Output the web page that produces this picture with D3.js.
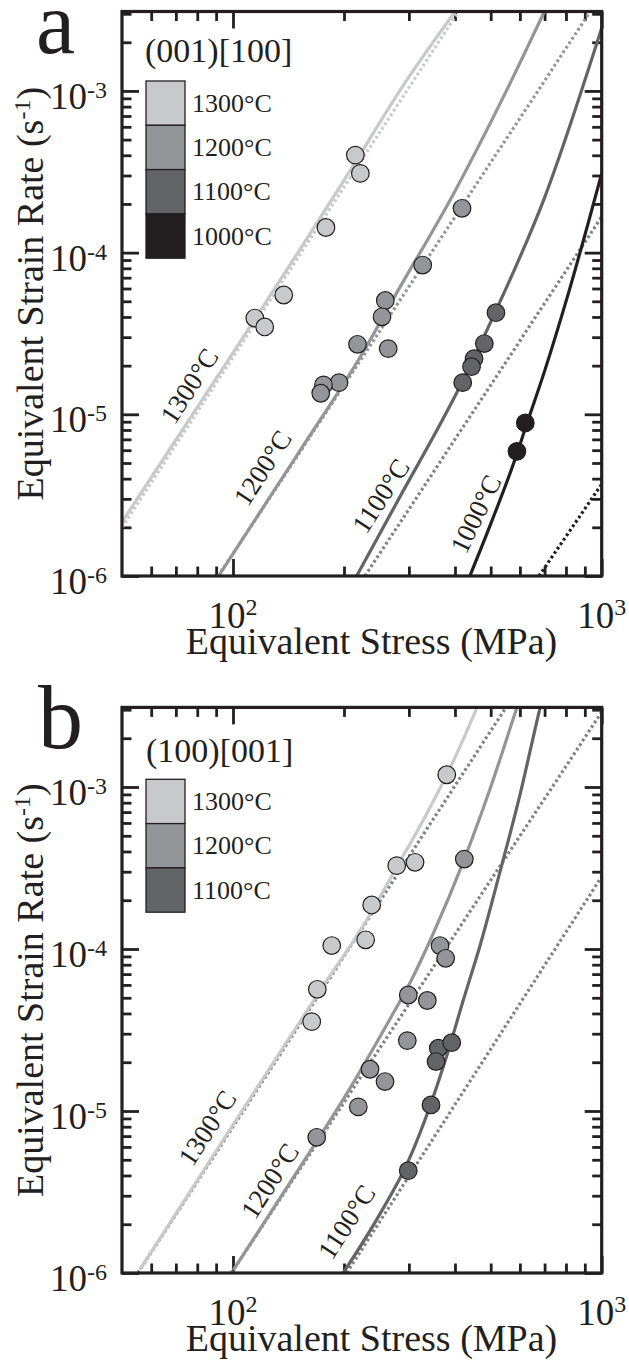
<!DOCTYPE html>
<html>
<head>
<meta charset="utf-8">
<script src="https://cdn.jsdelivr.net/npm/d3@7"></script>
<style>
  html, body { margin: 0; padding: 0; background: #fff; }
  svg text { font-family: "Liberation Serif", "Times New Roman", "DejaVu Serif", serif; fill: #231f20; }
</style>
</head>
<body>
<svg id="fig" width="629" height="1370" font-family="Liberation Serif, Times New Roman, DejaVu Serif, serif"></svg>
<script>
// ---------------- data ----------------
// axis ticks
const stressMajor = [100, 1000];
const stressMajorExp = ["2", "3"];
const stressMinor = [60, 70, 80, 90, 200, 300, 400, 500, 600, 700, 800, 900];
const rateMajor = [1e-6, 1e-5, 1e-4, 1e-3];
const rateMajorExp = ["-6", "-5", "-4", "-3"];
const rateMinor = [2e-6,3e-6,4e-6,5e-6,6e-6,7e-6,8e-6,9e-6,
                   2e-5,3e-5,4e-5,5e-5,6e-5,7e-5,8e-5,9e-5,
                   2e-4,3e-4,4e-4,5e-4,6e-4,7e-4,8e-4,9e-4,
                   2e-3,3e-3];

// temperatures and their grey levels
const tempsA = ["1300°C", "1200°C", "1100°C", "1000°C"];
const tempsB = ["1300°C", "1200°C", "1100°C"];
const tempGreys = ["#c8c9cb", "#939598", "#636466", "#231f20"];

// (001)[100] : measured rates [stress MPa, strain rate 1/s]
const dataA1300 = [[214.7,4.01e-4],[221.5,3.09e-4],[178.7,1.43e-4],[137.3,5.47e-5],[114.6,3.94e-5],[121.9,3.47e-5]];
const dataA1200 = [[418,1.88e-4],[327,8.38e-5],[258.9,5.06e-5],[253.6,4.01e-5],[217.6,2.71e-5],[263.6,2.55e-5],[193.9,1.57e-5],[176,1.52e-5],[173,1.35e-5]];
const dataA1100 = [[516.7,4.25e-5],[480.5,2.74e-5],[450.6,2.21e-5],[443.6,1.97e-5],[419.8,1.57e-5]];
const dataA1000 = [[589,5.9e-6],[620.6,8.84e-6]];

// (001)[100] : model curves (solid = total rate, dotted = power-law part)
const fitA1300 = [[50,2.16e-6],[100,2.4e-5],[150,1.0e-4],[200,2.8e-4],[300,1.22e-3],[420,3.6e-3]];
const fitA1200 = [[91.4,1.0e-6],[150,5.7e-6],[224,2.37e-5],[275,5.4e-5],[400,2.4e-4],[550,9.9e-4],[702,3.16e-3]];
const fitA1100 = [[216.5,1.0e-6],[275.6,2.74e-6],[418,1.58e-5],[514.6,4.29e-5],[700,2.19e-4],[1000,2.45e-3]];
const fitA1000 = [[439,1.0e-6],[500,2.1e-6],[589,5.7e-6],[620.6,8.2e-6],[700,1.85e-5],[814,5.7e-5],[1000,3.09e-4]];
const plA1300 = [[50,2.0e-6],[420,3.4e-3]];
const plA1200 = [[91.2,1.0e-6],[1000,3.97e-3]];
const plA1100 = [[228,1.0e-6],[1000,1.67e-4]];
const plA1000 = [[676,1.0e-6],[1000,3.7e-6]];

// (100)[001] : measured rates
const dataB1300 = [[380,1.19e-3],[278,3.27e-4],[311.7,3.43e-4],[237.8,1.87e-4],[229,1.14e-4],[185.3,1.05e-4],[169.3,5.64e-5],[163.5,3.56e-5]];
const dataB1200 = [[424,3.59e-4],[364.3,1.05e-4],[377.4,8.76e-5],[298.8,5.2e-5],[336.5,4.81e-5],[297,2.72e-5],[235.3,1.81e-5],[258.4,1.52e-5],[218.7,1.06e-5],[168.7,6.88e-6]];
const dataB1100 = [[360.5,2.44e-5],[392,2.64e-5],[355.3,2.02e-5],[344.4,1.09e-5],[298.8,4.28e-6]];

// (100)[001] : model curves
const fitB1300 = [[55.9,1.05e-6],[100,8.2e-6],[172,5.5e-5],[230,1.5e-4],[278,3.2e-4],[330,6.4e-4],[380,1.19e-3],[420,1.94e-3],[458,3.06e-3],[475,3.7e-3]];
const fitB1200 = [[100.2,1.04e-6],[150,4.3e-6],[200,1.2e-5],[266.6,3.7e-5],[300,6.0e-5],[350,1.26e-4],[423,3.54e-4],[500,1.0e-3],[588,3.06e-3],[620,4.4e-3]];
const fitB1100 = [[199,1.0e-6],[250,2.3e-6],[298.8,4.9e-6],[345.9,1.15e-5],[384.6,2.4e-5],[421.4,4.84e-5],[470,1.09e-4],[530,3.0e-4],[600,8.9e-4],[680,3.06e-3],[700,4.0e-3]];
const plB1300 = [[55.2,1.0e-6],[560,3.3e-3]];
const plB1200 = [[99,1.0e-6],[1000,2.9e-3]];
const plB1100 = [[203.4,1.0e-6],[1000,2.8e-4]];

// ---------------- layout ----------------
const svg = d3.select("#fig");
const X0 = 122, X1 = 601.7;
const x = d3.scaleLog().domain([50, 1000]).range([X0, X1]);
const ink = "#231f20";
const dotGreyB = "#808285";

const panels = [
  {
    id: "a", letter: "a", top: 11.5, bottom: 576,
    title: "(001)[100]", temps: tempsA,
    data: [dataA1300, dataA1200, dataA1100, dataA1000],
    fits: [fitA1300, fitA1200, fitA1100, fitA1000],
    pls: [plA1300, plA1200, plA1100, plA1000],
    plColors: [tempGreys[0], tempGreys[1], "#808285", tempGreys[3]],
    letterPos: [36, 53, 88],
    titlePos: [145, 62.3],
    legendTop: 81,
    curveLabels: [[189.5, 386, -57], [262.8, 468, -57], [381, 496, -57], [476, 514, -64]]
  },
  {
    id: "b", letter: "b", top: 707.4, bottom: 1273,
    title: "(100)[001]", temps: tempsB,
    data: [dataB1300, dataB1200, dataB1100],
    fits: [fitB1300, fitB1200, fitB1100],
    pls: [plB1300, plB1200, plB1100],
    plColors: [dotGreyB, dotGreyB, dotGreyB],
    letterPos: [38, 748.3, 90],
    titlePos: [146, 762.3],
    legendTop: 779.3,
    curveLabels: [[207.5, 1128, -57], [270, 1181, -57], [346.7, 1222, -57]]
  }
];

function supLabel(sel, base, exp, supSize, shift) {
  sel.append("tspan").text(base);
  sel.append("tspan").attr("font-size", supSize).attr("dy", -shift).text(exp);
}

panels.forEach(p => {
  const y = d3.scaleLog().domain([1e-6, 3.1e-3]).range([p.bottom, p.top]);
  const g = svg.append("g").attr("class", "panel-" + p.id);

  const clipId = "clip-" + p.id;
  svg.append("defs").append("clipPath").attr("id", clipId)
    .append("rect").attr("x", X0).attr("y", p.top).attr("width", X1 - X0).attr("height", p.bottom - p.top);

  // ticks on all four sides, pointing inward
  const major = 17, minor = 9.5;
  const axes = [
    [() => d3.axisBottom(x), `translate(0,${p.bottom})`, stressMajor, stressMinor],
    [() => d3.axisTop(x), `translate(0,${p.top})`, stressMajor, stressMinor],
    [() => d3.axisLeft(y), `translate(${X0},0)`, rateMajor, rateMinor],
    [() => d3.axisRight(y), `translate(${X1},0)`, rateMajor, rateMinor]
  ];
  axes.forEach(([mk, tr, maj, mn]) => {
    const ag = g.append("g").attr("transform", tr)
      .call(mk().tickValues(maj).tickSize(-major).tickFormat(""));
    const ag2 = g.append("g").attr("transform", tr)
      .call(mk().tickValues(mn).tickSize(-minor).tickFormat(""));
    [ag, ag2].forEach(s => {
      s.selectAll(".domain").remove();
      s.selectAll(".tick text").remove();
      s.selectAll(".tick line").attr("stroke", ink).attr("stroke-width", 2.8);
    });
  });

  // tick labels
  stressMajor.forEach((v, i) => {
    const t = g.append("text").attr("x", x(v)).attr("y", p.bottom + 52)
      .attr("text-anchor", "middle").attr("font-size", 37);
    supLabel(t, "10", stressMajorExp[i], 24, 13);
  });
  rateMajor.forEach((v, i) => {
    const t = g.append("text").attr("x", X0 - 15).attr("y", y(v) + 18)
      .attr("text-anchor", "end").attr("font-size", 37);
    supLabel(t, "10", rateMajorExp[i], 24, 11);
  });

  // axis titles
  g.append("text").attr("x", 371.5).attr("y", p.bottom + 78)
    .attr("text-anchor", "middle").attr("font-size", 38).text("Equivalent Stress (MPa)");
  const yt = g.append("text")
    .attr("transform", `translate(43,${(p.top + p.bottom) / 2}) rotate(-90)`)
    .attr("text-anchor", "middle").attr("font-size", 38);
  yt.append("tspan").text("Equivalent Strain Rate (s");
  yt.append("tspan").attr("font-size", 24).attr("dy", -13).text("-1");
  yt.append("tspan").attr("dy", 13).text(")");

  // panel letter
  g.append("text").attr("x", p.letterPos[0]).attr("y", p.letterPos[1])
    .attr("font-size", p.letterPos[2]).text(p.letter);

  // curves
  const line = d3.line().x(d => x(d[0])).y(d => y(d[1])).curve(d3.curveMonotoneX);
  const curves = g.append("g").attr("clip-path", `url(#${clipId})`);
  p.pls.forEach((pts, i) => {
    curves.append("path").attr("d", line(pts)).attr("fill", "none")
      .attr("stroke", p.plColors[i]).attr("stroke-width", 3.2)
      .attr("stroke-dasharray", "2.7,2.7");
  });
  p.fits.forEach((pts, i) => {
    curves.append("path").attr("d", line(pts)).attr("fill", "none")
      .attr("stroke", tempGreys[i]).attr("stroke-width", 3.2);
  });

  // measured points
  p.data.forEach((pts, i) => {
    g.append("g").selectAll("circle").data(pts).join("circle")
      .attr("cx", d => x(d[0])).attr("cy", d => y(d[1])).attr("r", 8.8)
      .attr("fill", tempGreys[i]).attr("stroke", ink).attr("stroke-width", 1.2);
  });

  // curve labels
  p.curveLabels.forEach((c, i) => {
    g.append("text").attr("transform", `translate(${c[0]},${c[1]}) rotate(${c[2]})`)
      .attr("text-anchor", "middle").attr("dominant-baseline", "central")
      .attr("font-size", 27).text(p.temps[i]);
  });

  // frame
  g.append("rect").attr("x", X0).attr("y", p.top).attr("width", X1 - X0).attr("height", p.bottom - p.top)
    .attr("fill", "none").attr("stroke", ink).attr("stroke-width", 3.2);

  // legend
  g.append("text").attr("x", p.titlePos[0]).attr("y", p.titlePos[1]).attr("font-size", 34).text(p.title);
  const boxH = 44.3, boxW = 39, boxX = 146;
  p.temps.forEach((t, i) => {
    const by = p.legendTop + i * boxH;
    g.append("rect").attr("x", boxX).attr("y", by).attr("width", boxW).attr("height", boxH)
      .attr("fill", tempGreys[i]).attr("stroke", ink).attr("stroke-width", 1.3);
    g.append("text").attr("x", boxX + boxW + 7).attr("y", by + boxH / 2 + 8.5)
      .attr("font-size", 26).text(t);
  });
});
</script>
</body>
</html>
